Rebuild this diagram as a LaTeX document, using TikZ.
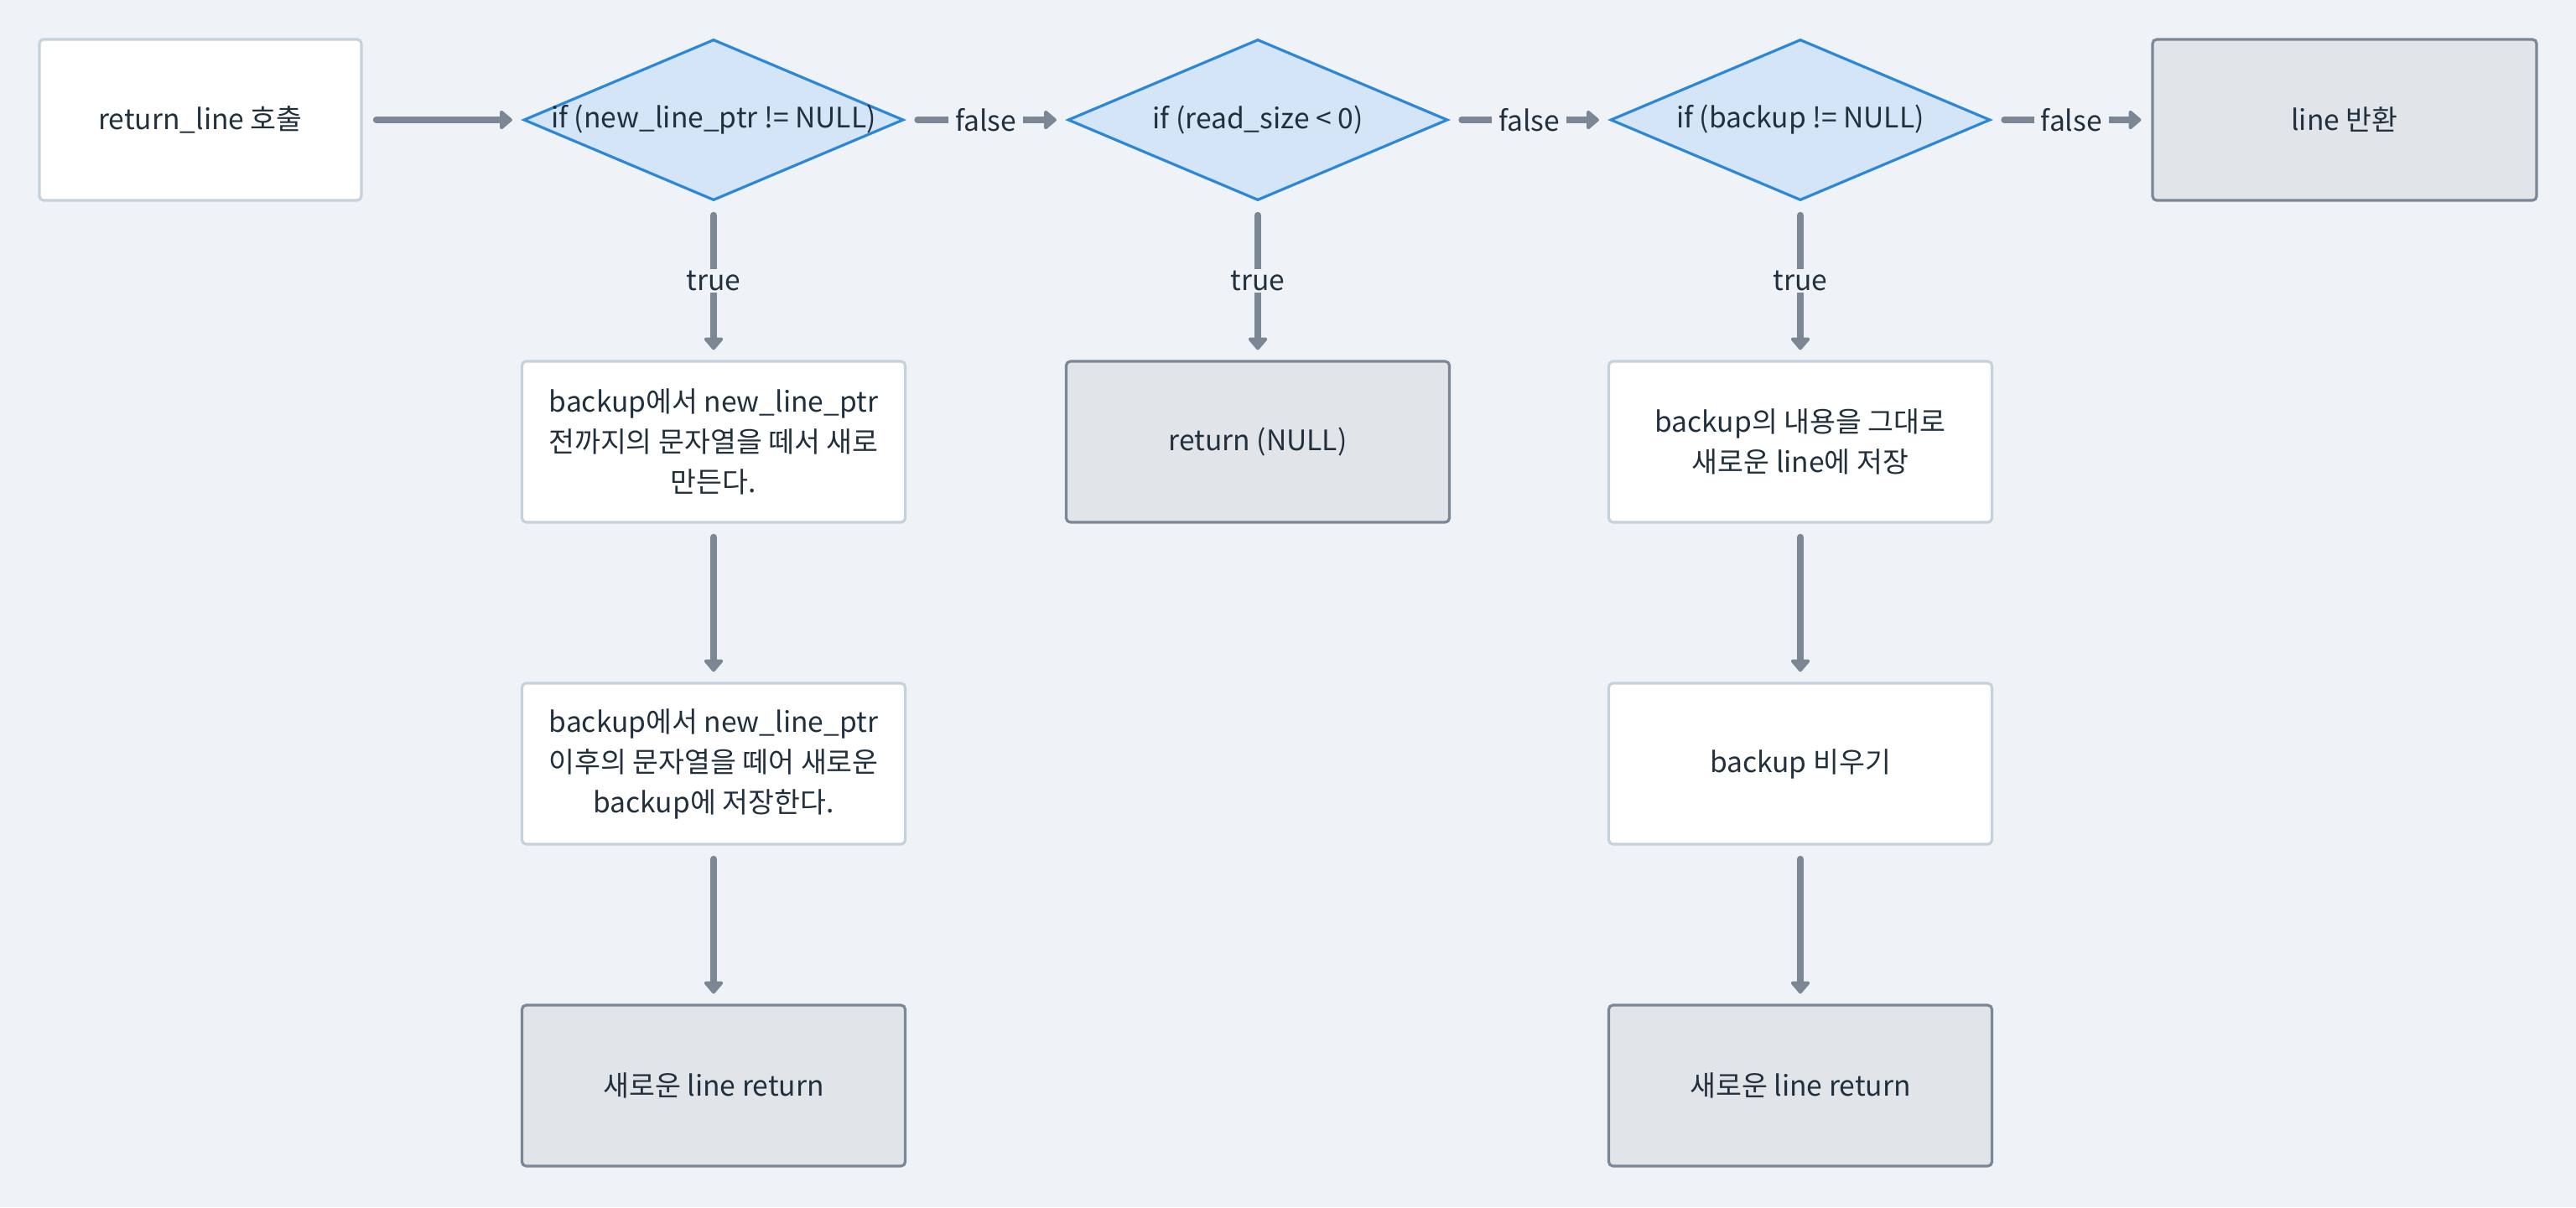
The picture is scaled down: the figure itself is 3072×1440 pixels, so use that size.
\documentclass[tikz,border=0pt]{standalone}
\usepackage{fontspec}
\setmainfont{Noto Sans CJK KR}
\usetikzlibrary{shapes.geometric,arrows.meta}
\definecolor{bg}{HTML}{EFF3F7}
\definecolor{ink}{HTML}{22303E}
\definecolor{edge}{HTML}{7B8794}
\definecolor{lightb}{HTML}{C5D1DB}
\definecolor{grayf}{HTML}{E1E5E9}
\definecolor{decf}{HTML}{D3E5F6}
\definecolor{decb}{HTML}{2D87D9}
\begin{document}
\begin{tikzpicture}[x=0.5pt,y=-0.5pt,
  every node/.style={font=\fontsize{16.8}{24}\selectfont, text=ink},
  proc/.style={draw=lightb, fill=white, line width=1.6pt, rounded corners=2.5pt,
    minimum width=228.5pt, minimum height=96pt, align=center, inner sep=0pt},
  term/.style={proc, draw=edge, fill=grayf},
  dec/.style={diamond, draw=decb, fill=decf, line width=1.6pt,
    minimum width=226.5pt, minimum height=96pt, inner sep=0pt},
  flow/.style={draw=edge, line width=3.8pt, line cap=round,
    -{Triangle[width=13pt,length=8pt,round]}, shorten <=8pt, shorten >=6pt},
  lbl/.style={fill=bg, inner xsep=4pt, inner ysep=1pt}
]
\fill[bg] (0,0) rectangle (3072,1440);
\useasboundingbox (0,0) rectangle (3072,1440);

\node[proc, minimum width=192pt] (start) at (239,143) {return\_line 호출};
\node[dec, label={center:if (new\_line\_ptr != NULL)}] (d1) at (851,143) {};
\node[dec, label={center:if (read\_size < 0)}] (d2) at (1500,143) {};
\node[dec, label={center:if (backup != NULL)}] (d3) at (2147,143) {};
\node[term, minimum width=229pt] (lret) at (2796,143) {line 반환};

\node[proc] (b1) at (851,527) {backup에서 new\_line\_ptr\\전까지의 문자열을 떼서 새로\\만든다.};
\node[proc] (b2) at (851,911) {backup에서 new\_line\_ptr\\이후의 문자열을 떼어 새로운\\backup에 저장한다.};
\node[term] (r1) at (851,1295) {새로운 line return};

\node[term] (rn) at (1500,527) {return (NULL)};

\node[proc] (c1) at (2147,527) {backup의 내용을 그대로\\새로운 line에 저장};
\node[proc] (c2) at (2147,911) {backup 비우기};
\node[term] (r3) at (2147,1295) {새로운 line return};

\draw[flow] (start) -- (d1);
\draw[flow, shorten <=7.5pt] (d1) -- node[lbl]{false} (d2);
\draw[flow, shorten <=7.5pt] (d2) -- node[lbl]{false} (d3);
\draw[flow, shorten <=7.5pt] (d3) -- node[lbl]{false} (lret);

\draw[flow] (d1) -- node[lbl]{true} (b1);
\draw[flow] (d2) -- node[lbl]{true} (rn);
\draw[flow] (d3) -- node[lbl]{true} (c1);

\draw[flow] (b1) -- (b2);
\draw[flow] (b2) -- (r1);
\draw[flow] (c1) -- (c2);
\draw[flow] (c2) -- (r3);
\end{tikzpicture}
\end{document}
